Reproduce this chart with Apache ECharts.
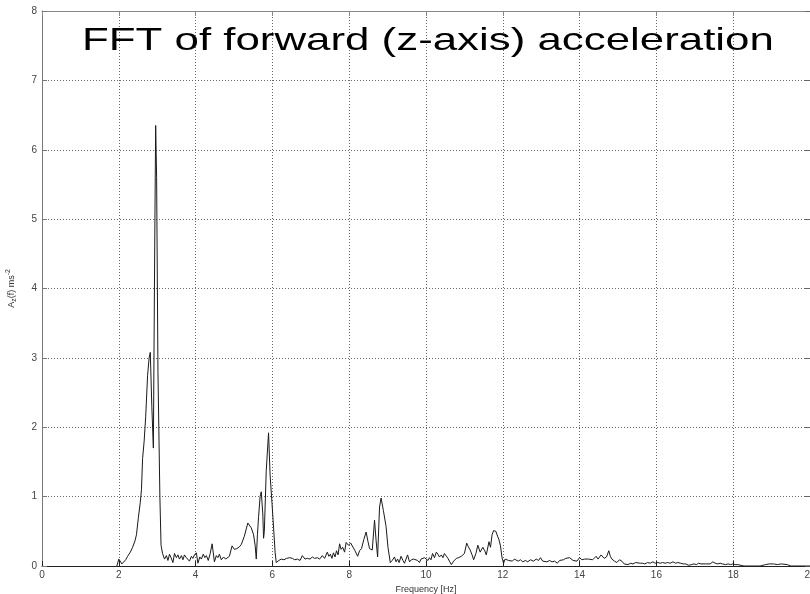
<!DOCTYPE html>
<html>
<head>
<meta charset="utf-8">
<script src="https://cdn.jsdelivr.net/npm/echarts@6/dist/echarts.min.js"></script>
<style>
html,body{margin:0;padding:0;background:#fff;}
#chart{width:810px;height:594px;}
</style>
</head>
<body>
<div id="chart"></div>
<script>
// Frequency (Hz) and amplitude A_z(f) (m/s^2)
var freq = [1.95,2.00,2.04,2.08,2.13,2.18,2.23,2.30,2.36,2.42,2.46,2.51,2.56,2.59,2.62,2.66,2.70,2.75,2.79,2.82,2.86,2.90,2.935,2.96,2.985,3.02,3.07,3.10,3.14,3.19,3.24,3.28,3.32,3.36,3.41,3.45,3.50,3.54,3.58,3.63,3.67,3.71,3.76,3.80,3.84,3.89,3.93,3.97,4.02,4.06,4.11,4.15,4.20,4.24,4.28,4.33,4.38,4.43,4.49,4.54,4.58,4.62,4.67,4.73,4.78,4.83,4.88,4.95,5.01,5.07,5.13,5.19,5.27,5.36,5.45,5.51,5.55,5.58,5.61,5.64,5.68,5.71,5.75,5.77,5.79,5.84,5.90,5.94,5.99,6.03,6.07,6.10,6.17,6.23,6.30,6.37,6.45,6.52,6.58,6.65,6.72,6.78,6.85,6.91,6.98,7.04,7.10,7.17,7.23,7.30,7.36,7.43,7.47,7.51,7.55,7.59,7.63,7.67,7.71,7.75,7.79,7.83,7.88,7.92,7.98,8.04,8.09,8.15,8.22,8.27,8.32,8.38,8.44,8.49,8.53,8.60,8.66,8.70,8.74,8.79,8.83,8.89,8.96,9.01,9.07,9.12,9.18,9.22,9.26,9.30,9.35,9.40,9.44,9.52,9.57,9.62,9.68,9.73,9.78,9.83,9.87,9.91,9.96,10.01,10.05,10.09,10.13,10.17,10.22,10.27,10.31,10.35,10.40,10.44,10.48,10.52,10.56,10.61,10.66,10.72,10.79,10.85,10.92,10.96,11.00,11.06,11.10,11.15,11.20,11.24,11.30,11.35,11.41,11.48,11.53,11.57,11.64,11.68,11.72,11.76,11.82,11.87,11.90,11.94,11.98,12.02,12.06,12.10,12.15,12.20,12.25,12.30,12.35,12.40,12.46,12.52,12.59,12.65,12.72,12.80,12.87,12.93,12.98,13.04,13.09,13.15,13.22,13.28,13.35,13.42,13.48,13.53,13.58,13.64,13.69,13.74,13.78,13.83,13.87,13.93,14.00,14.06,14.13,14.18,14.23,14.28,14.34,14.39,14.43,14.48,14.52,14.56,14.60,14.64,14.70,14.76,14.80,14.84,14.91,14.97,15.04,15.10,15.16,15.26,15.33,15.39,15.46,15.51,15.58,15.64,15.70,15.77,15.84,15.91,15.97,16.04,16.10,16.16,16.23,16.29,16.36,16.43,16.50,16.56,16.63,16.70,16.76,16.84,16.91,16.98,17.04,17.10,17.16,17.21,17.28,17.33,17.40,17.47,17.53,17.60,17.66,17.72,17.80,17.87,17.93,17.99,18.05,18.12,18.20,18.28,18.60,18.70,18.84,18.94,19.05,19.15,19.25,19.41,19.50,20.00];
var amp = [0,0.10,0.09,0.03,0.02,0.09,0.14,0.20,0.27,0.36,0.45,0.70,0.92,1.10,1.55,1.80,2.15,2.75,3.00,3.08,2.30,1.70,4.60,6.35,5.60,2.80,1.00,0.30,0.18,0.10,0.15,0.08,0.17,0.12,0.05,0.18,0.12,0.16,0.10,0.15,0.09,0.16,0.12,0.14,0.07,0.14,0.11,0.16,0.19,0.04,0.13,0.10,0.17,0.12,0.15,0.08,0.18,0.32,0.06,0.15,0.12,0.17,0.09,0.13,0.10,0.12,0.14,0.29,0.24,0.25,0.27,0.31,0.43,0.62,0.55,0.45,0.30,0.10,0.45,0.71,1.00,1.07,0.75,0.40,0.50,1.38,1.92,1.31,0.90,0.56,0.20,0.05,0.08,0.10,0.09,0.11,0.12,0.11,0.09,0.10,0.08,0.15,0.10,0.11,0.10,0.13,0.11,0.12,0.10,0.15,0.11,0.20,0.14,0.17,0.11,0.19,0.13,0.22,0.16,0.32,0.24,0.27,0.20,0.34,0.30,0.33,0.31,0.22,0.14,0.22,0.25,0.38,0.49,0.35,0.25,0.23,0.66,0.37,0.13,0.85,0.98,0.80,0.57,0.27,0.05,0.08,0.13,0.06,0.10,0.05,0.14,0.08,0.04,0.16,0.06,0.09,0.10,0.12,0.08,0.05,0.10,0.09,0.12,0.11,0.08,0.12,0.09,0.18,0.12,0.20,0.17,0.13,0.16,0.12,0.18,0.15,0.12,0.07,0.02,0.07,0.11,0.12,0.14,0.13,0.18,0.33,0.28,0.23,0.16,0.09,0.18,0.30,0.20,0.27,0.22,0.16,0.35,0.27,0.45,0.51,0.50,0.42,0.38,0.29,0.12,0.04,0.10,0.11,0.08,0.09,0.07,0.10,0.12,0.07,0.09,0.06,0.08,0.06,0.09,0.07,0.10,0.08,0.12,0.07,0.09,0.06,0.08,0.06,0.07,0.04,0.08,0.06,0.09,0.11,0.13,0.12,0.11,0.08,0.09,0.07,0.12,0.09,0.10,0.08,0.10,0.12,0.09,0.11,0.14,0.10,0.11,0.16,0.15,0.11,0.13,0.22,0.14,0.10,0.07,0.05,0.09,0.07,0.03,0.02,0.04,0.03,0.05,0.03,0.04,0.04,0.03,0.05,0.04,0.06,0.04,0.05,0.04,0.05,0.04,0.05,0.04,0.06,0.04,0.05,0.04,0.03,0.03,0.01,0.02,0.03,0.02,0.04,0.03,0.05,0.03,0.04,0.03,0.06,0.04,0.03,0.04,0.03,0.02,0.03,0.02,0.03,0.02,0.02,0.01,0.00,0.00,0.00,0.02,0.03,0.03,0.02,0.03,0.02,0.00,0.00];

var titleText = 'FFT of forward (z-axis) acceleration';
var xName = 'Frequency [Hz]';

var seriesData = freq.map(function (f, i) { return [f, amp[i]]; });

var chart = echarts.init(document.getElementById('chart'), null, {renderer: 'canvas'});
var FONT = '"Liberation Sans", Arial, sans-serif';
var gridLine = {show: true, lineStyle: {color: '#666', width: 1, type: [1, 2]}};
var option = {
  animation: false,
  backgroundColor: '#fff',
  grid: {left: 42, right: 0, top: 11, bottom: 28, containLabel: false, outerBoundsMode: 'none'},
  xAxis: [{
    type: 'value', min: 0, max: 20, interval: 2,
    name: xName, nameLocation: 'middle', nameGap: 12,
    nameTextStyle: {fontFamily: FONT, fontSize: 9, color: '#333'},
    axisLine: {show: true, onZero: false, lineStyle: {color: '#222', width: 1}},
    axisTick: {show: true, inside: true, length: 5, lineStyle: {color: '#222'}},
    axisLabel: {fontFamily: FONT, fontSize: 10, color: '#444', margin: 4},
    splitLine: gridLine
  }, {
    type: 'value', min: 0, max: 20, interval: 2, position: 'top',
    axisLine: {show: true, onZero: false, lineStyle: {color: '#888'}},
    axisTick: {show: true, inside: true, length: 5, lineStyle: {color: '#888'}},
    axisLabel: {show: false}, splitLine: {show: false}
  }],
  yAxis: [{
    type: 'value', min: 0, max: 8, interval: 1,
    name: '{n|A}{s|z}{n|(f) ms}{p|-2}',
    nameLocation: 'middle', nameRotate: 90, nameGap: 24,
    nameTextStyle: {
      fontFamily: FONT, color: '#333',
      rich: {
        n: {fontSize: 9, fontFamily: FONT, color: '#333'},
        s: {fontSize: 7, fontFamily: FONT, color: '#333', padding: [5, 0, 0, 0]},
        p: {fontSize: 7, fontFamily: FONT, color: '#333', padding: [0, 0, 6, 0]}
      }
    },
    axisLine: {show: true, onZero: false, lineStyle: {color: '#777', width: 1}},
    axisTick: {show: true, inside: true, length: 5, lineStyle: {color: '#777'}},
    axisLabel: {fontFamily: FONT, fontSize: 10, color: '#444', margin: 5},
    splitLine: gridLine
  }, {
    type: 'value', min: 0, max: 8, interval: 1, position: 'right',
    axisLine: {show: true, onZero: false, lineStyle: {color: '#666'}},
    axisTick: {show: true, inside: true, length: 5, lineStyle: {color: '#666'}},
    axisLabel: {show: false}, splitLine: {show: false}
  }],
  graphic: [{
    type: 'text', x: 82, y: 25, scaleX: 1.37, scaleY: 1,
    style: {text: titleText, font: '32px ' + FONT, fill: '#000', align: 'left', verticalAlign: 'top'},
    z: 100
  }],
  series: [{
    type: 'line', xAxisIndex: 0, yAxisIndex: 0,
    data: seriesData, showSymbol: false, symbol: 'none',
    lineStyle: {color: '#1a1a1a', width: 1}
  }]
};
chart.setOption(option);
</script>
</body>
</html>
